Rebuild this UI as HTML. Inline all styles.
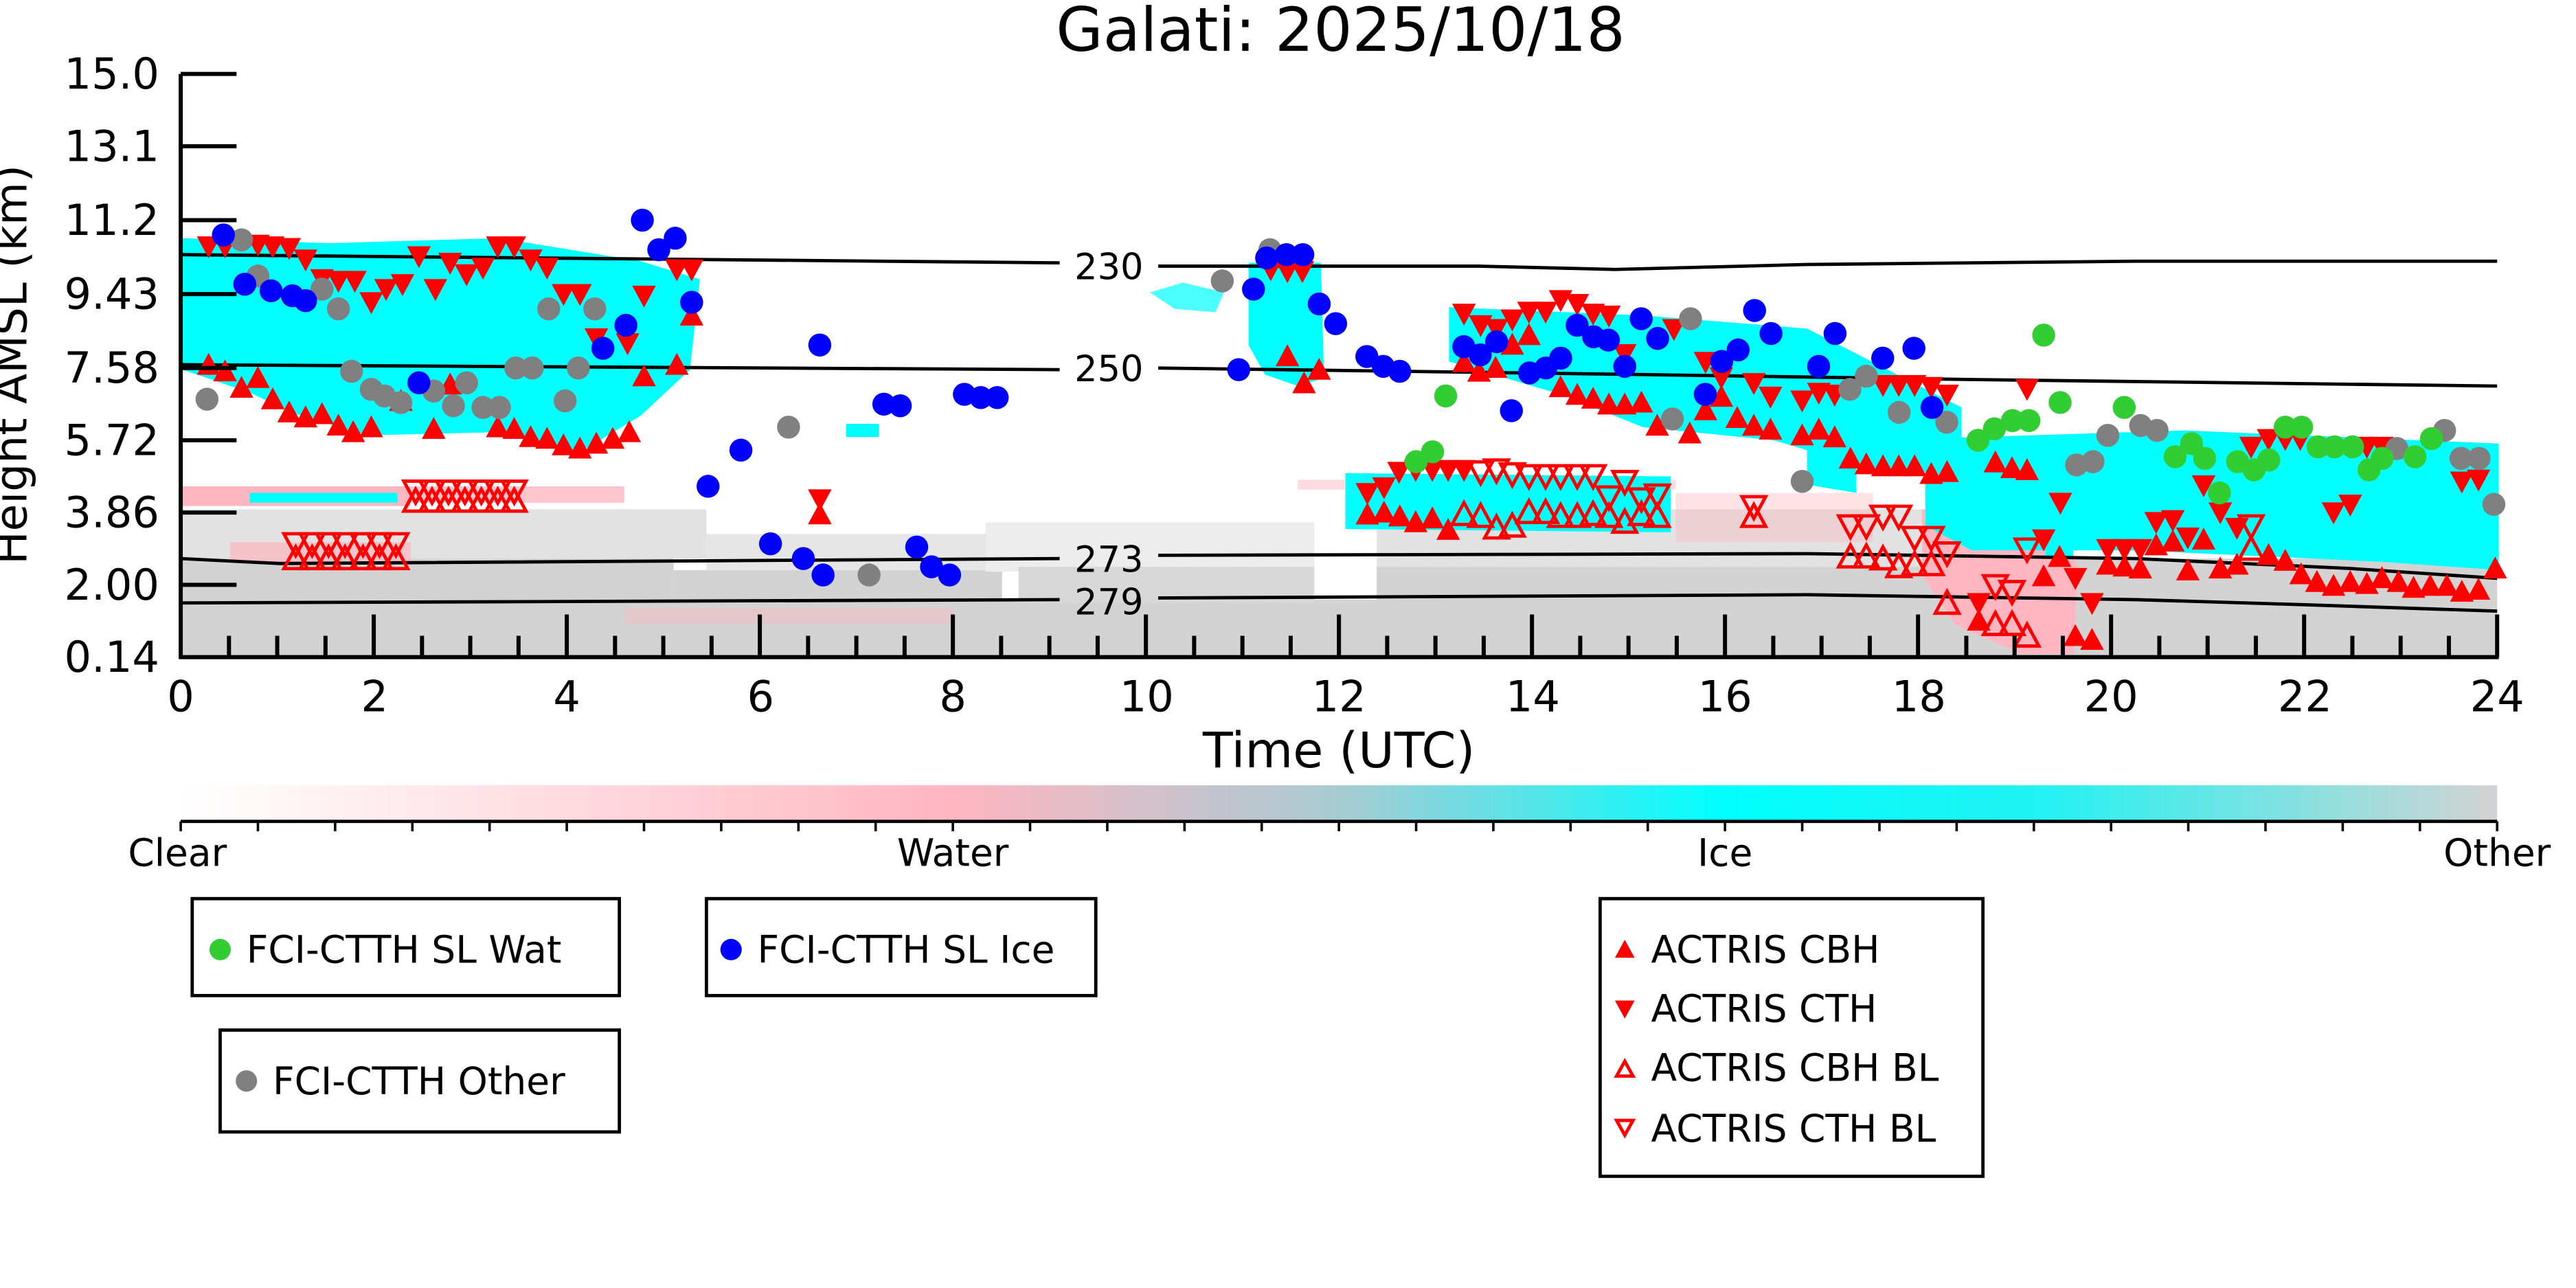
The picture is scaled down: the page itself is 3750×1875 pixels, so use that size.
<!DOCTYPE html>
<html><head><meta charset="utf-8"><style>html,body{margin:0;padding:0;background:#fff}svg{display:block}text{font-family:"DejaVu Sans","Liberation Sans",sans-serif}</style></head>
<body>
<svg id="s" width="3750" height="1875" viewBox="0 0 1568 784" xmlns="http://www.w3.org/2000/svg">
<defs>
<linearGradient id="cb" x1="0" x2="1" y1="0" y2="0">
<stop offset="0" stop-color="#ffffff"/><stop offset="0.333" stop-color="#ffb6c1"/><stop offset="0.5" stop-color="#a8cbd2"/><stop offset="0.667" stop-color="#00ffff"/><stop offset="0.8" stop-color="#20f2f2"/><stop offset="1" stop-color="#d3d3d3"/>
</linearGradient>
</defs>
<text x="816" y="31" font-size="37" text-anchor="middle">Galati: 2025/10/18</text>
<g id="bg">
<rect x="110" y="365" width="1410" height="35" fill="#d3d3d3"/>
<rect x="110" y="340" width="300" height="26" fill="#d3d3d3"/>
<rect x="110" y="310" width="320" height="30" fill="#e2e2e2"/>
<rect x="430" y="325" width="170" height="22" fill="#e6e6e6"/>
<rect x="410" y="347" width="200" height="20" fill="#d3d3d3"/>
<rect x="600" y="318" width="200" height="30" fill="#ececec"/>
<rect x="620" y="345" width="180" height="22" fill="#d8d8d8"/>
<rect x="838" y="345" width="340" height="21" fill="#d3d3d3"/>
<rect x="838" y="310" width="340" height="35" fill="#e2e2e2"/>
<rect x="1178" y="340" width="342" height="26" fill="#d3d3d3"/>
<rect x="110" y="296" width="140" height="12" fill="#ffb6c1"/>
<rect x="250" y="296" width="130" height="10" fill="#ffb6c1" opacity="0.8"/>
<rect x="140" y="330" width="110" height="12" fill="#ffb6c1" opacity="0.7"/>
<rect x="790" y="292" width="230" height="6" fill="#ffb6c1" opacity="0.5"/>
<rect x="1020" y="300" width="120" height="30" fill="#ffb6c1" opacity="0.4"/>
<polygon points="1170,310 1250,315 1265,345 1262,398 1230,398 1190,380 1170,350" fill="#ffb6c1"/>
<rect x="380" y="370" width="200" height="10" fill="#ffb6c1" opacity="0.4"/>
</g>
<g fill="#00ffff">
<polygon points="111,145 200,148 304,145 390,159 426,170 420,225 390,253 350,277 304,263 223,265 180,252 152,239 120,228 111,225"/>
<polygon points="700,178 720,172 745,178 740,190 715,188" opacity="0.7"/>
<polygon points="760,160 804,160 806,230 790,235 770,228 760,210"/>
<polygon points="882,187 1000,192 1100,200 1194,248 1194,288 1140,286 1080,268 1000,260 950,240 882,220"/>
<polygon points="819,288 1017,290 1017,324 819,322"/>
<polygon points="1172,267 1330,262 1521,270 1521,347 1450,342 1300,335 1200,335 1172,320"/>
<polygon points="1245,280 1262,280 1262,340 1245,340"/>
<polygon points="1100,240 1130,250 1130,300 1100,295"/>
<rect x="152" y="300" width="90" height="6"/>
<rect x="515" y="258" width="20" height="8"/>
</g>
<g stroke="#000" stroke-width="2" fill="none">
<polyline points="110,155 645,160"/><polyline points="705,162 900,162 983,164 1100,161 1300,159 1520,159"/>
<polyline points="110,222 645,225"/><polyline points="705,224 1000,228 1200,231 1520,235"/>
<polyline points="110,340 170,343 645,340"/><polyline points="705,338 1100,337 1300,340 1430,346 1520,352"/>
<polyline points="110,367 645,365"/><polyline points="705,364 1100,362 1300,365 1400,368 1520,372"/>
</g>
<g font-size="22" text-anchor="middle"><text x="675" y="170">230</text><text x="675" y="232">250</text><text x="675" y="348">273</text><text x="675" y="374">279</text></g>
<g id="mk"></g>
<g stroke="#000" stroke-width="2.5">
<line x1="110" y1="45" x2="110" y2="401"/><line x1="109" y1="400" x2="1521" y2="400"/>
</g>
<g id="ax" stroke="#000" stroke-width="2.5"></g>
<g font-size="26" text-anchor="end">
<text x="97" y="54">15.0</text><text x="97" y="98">13.1</text><text x="97" y="143">11.2</text><text x="97" y="188">9.43</text><text x="97" y="233">7.58</text><text x="97" y="277">5.72</text><text x="97" y="321">3.86</text><text x="97" y="365">2.00</text><text x="97" y="409">0.14</text>
</g>
<text transform="translate(16,222) rotate(-90)" font-size="27" text-anchor="middle">Height AMSL (km)</text>
<g font-size="26" text-anchor="middle">
<text x="110" y="433">0</text><text x="228" y="433">2</text><text x="345" y="433">4</text><text x="463" y="433">6</text><text x="580" y="433">8</text><text x="698" y="433">10</text><text x="815" y="433">12</text><text x="933" y="433">14</text><text x="1050" y="433">16</text><text x="1168" y="433">18</text><text x="1285" y="433">20</text><text x="1403" y="433">22</text><text x="1520" y="433">24</text>
</g>
<text x="815" y="467" font-size="30" text-anchor="middle">Time (UTC)</text>
<rect x="110" y="478" width="1410" height="22" fill="url(#cb)"/>
<line x1="110" y1="500" x2="1520" y2="500" stroke="#000" stroke-width="2"/>
<g id="cbt" stroke="#000" stroke-width="1.5"></g>
<g font-size="23" text-anchor="middle"><text x="108" y="527">Clear</text><text x="580" y="527">Water</text><text x="1050" y="527">Ice</text><text x="1520" y="527">Other</text></g>
<g stroke="#000" stroke-width="2" fill="#fff">
<rect x="117" y="547" width="260" height="59"/><rect x="430" y="547" width="237" height="59"/><rect x="134" y="627" width="243" height="62"/><rect x="974" y="547" width="233" height="169"/>
</g>
<circle cx="134" cy="578" r="6.5" fill="#32cd32"/><circle cx="445" cy="578" r="6.5" fill="#0000ff"/><circle cx="150" cy="658" r="6.5" fill="#808080"/>
<g font-size="23"><text x="150" y="586">FCI-CTTH SL Wat</text><text x="461" y="586">FCI-CTTH SL Ice</text><text x="166" y="666">FCI-CTTH Other</text>
<text x="1005" y="586">ACTRIS CBH</text><text x="1005" y="622">ACTRIS CTH</text><text x="1005" y="658">ACTRIS CBH BL</text><text x="1005" y="695">ACTRIS CTH BL</text></g>
<polygon points="989,572 995,583 983,583" fill="#f00"/><polygon points="983,609 995,609 989,620" fill="#f00"/>
<polygon points="989,646 994,655 984,655" fill="none" stroke="#f00" stroke-width="2"/><polygon points="984,682 994,682 989,691" fill="none" stroke="#f00" stroke-width="2"/>
<script>
var NS="http://www.w3.org/2000/svg";
function el(p,t,a){var e=document.createElementNS(NS,t);for(var k in a)e.setAttribute(k,a[k]);p.appendChild(e);return e;}
var ax=document.getElementById("ax");
[45,89,134,179,224,268,312,356].forEach(function(y){el(ax,"line",{x1:110,y1:y,x2:144,y2:y});});
for(var i=1;i<=48;i++){var x=110+i*29.375;var big=i%4==0;el(ax,"line",{x1:x,y1:400,x2:x,y2:big?374:387});}
var cbt=document.getElementById("cbt");
for(var i=0;i<=30;i++){var x=110+i*47;el(cbt,"line",{x1:x,y1:500,x2:x,y2:506});}
var mk=document.getElementById("mk");
function z2(p){return [p[0]*0.507+773.5,p[1]*0.2349+41.8];}
var S=7.2;
function up(x,y,f){el(mk,"polygon",{points:(x)+","+(y-S)+" "+(x+S)+","+(y+S*0.85)+" "+(x-S)+","+(y+S*0.85),fill:f?"#f00":"none",stroke:"#f00","stroke-width":f?0:2});}
function dn(x,y,f){el(mk,"polygon",{points:(x-S)+","+(y-S*0.85)+" "+(x+S)+","+(y-S*0.85)+" "+(x)+","+(y+S),fill:f?"#f00":"none",stroke:"#f00","stroke-width":f?0:2});}
function c(x,y,col){el(mk,"circle",{cx:x,cy:y,r:7,fill:col});}
[180,190,200,210,221,231,241].forEach(function(x){dn(x,331,0);up(x,340,0);});
[253,263,273,283,293,303,313].forEach(function(x){dn(x,299,0);up(x,305,0);});
var ou2=[[232,1155],[252,1160],[271,1190],[290,1185],[310,1150],[330,1150],[348,1160],[368,1160],[387,1155],[406,1160],[425,1175],[445,1155],[464,1160],[580,1160],[696,1265],[715,1265],[735,1270],[754,1290],[773,1285],[793,1285],[812,1385],[870,1440],[890,1440],[908,1470],[1177,1245]];
var od2=[[252,1045],[271,1040],[290,1050],[310,1055],[330,1055],[348,1055],[368,1055],[387,1055],[406,1110],[425,1070],[445,1115],[464,1105],[580,1135],[696,1185],[715,1185],[735,1160],[754,1160],[773,1215],[793,1215],[812,1255],[870,1340],[890,1355],[908,1245],[1177,1185]];
ou2.forEach(function(p){var q=z2(p);up(q[0],q[1],0);});
od2.forEach(function(p){var q=z2(p);dn(q[0],q[1],0);});
var u1=[[127,222],[137,226],[147,236],[157,230],[166,243],[176,251],[186,254],[196,252],[206,259],[215,263],[226,260],[244,244],[264,261],[274,234],[303,260],[313,261],[323,266],[333,267],[343,271],[353,273],[363,270],[373,267],[383,263],[392,229],[412,222],[421,192],[499,313]];
var d1=[[127,150],[137,150],[157,149],[166,150],[176,151],[186,158],[196,170],[206,171],[216,171],[226,184],[235,176],[245,173],[255,156],[265,176],[274,160],[284,167],[294,163],[303,150],[313,150],[323,158],[333,163],[343,179],[353,179],[363,206],[382,209],[392,180],[412,164],[421,164],[499,304]];
u1.forEach(function(p){up(p[0],p[1],1);});d1.forEach(function(p){dn(p[0],p[1],1);});
var u2=[[20,745],[40,815],[58,780],[232,760],[250,785],[270,775],[290,715],[310,690],[348,825],[368,845],[387,855],[406,870],[425,870],[445,865],[464,925],[503,945],[522,885],[541,850],[560,905],[580,925],[600,935],[638,950],[658,935],[677,955],[696,1010],[715,1025],[735,1030],[754,1030],[773,1030],[793,1050],[812,1045],[870,1020],[890,1035],[908,1040],[116,1155],[136,1150],[155,1160],[174,1175],[194,1165],[213,1195],[928,1315],[947,1265],[1005,1285],[1025,1290],[1044,1295],[1063,1235],[1083,1225],[1101,1300],[1120,1220],[1140,1295],[1160,1285],[1198,1260],[1218,1275],[1237,1310],[1256,1330],[1276,1340],[1296,1330],[1316,1335],[1334,1320],[1354,1330],[1372,1345],[1392,1340],[1412,1340],[1430,1355],[1450,1350],[1470,1295],[850,1430],[966,1470],[986,1480]];
var d2=[[0,520],[20,525],[38,525],[232,635],[252,665],[271,675],[290,650],[310,630],[330,630],[348,600],[368,610],[387,635],[406,640],[425,740],[484,675],[522,760],[541,800],[580,815],[600,850],[638,860],[658,840],[677,845],[735,820],[754,820],[773,820],[793,825],[812,845],[908,830],[116,1100],[136,1085],[154,1045],[174,1040],[194,1040],[213,1040],[232,1040],[948,1125],[1120,1080],[1140,1150],[1160,1190],[1177,980],[1198,960],[1218,960],[1236,960],[1276,1150],[1296,1130],[1316,980],[1334,980],[1430,1070],[1450,1065],[928,1220],[966,1320],[986,1385],[850,1385],[1063,1175],[1083,1170],[1101,1215],[1005,1245],[1025,1245],[1044,1245]];
u2.forEach(function(p){var q=z2(p);up(q[0],q[1],1);});d2.forEach(function(p){var q=z2(p);dn(q[0],q[1],1);});
var gray=[[126,243],[147,146],[157,168],[196,176],[206,188],[214,226],[226,237],[234,241],[244,245],[264,238],[276,247],[284,233],[294,248],[304,248],[314,224],[324,224],[334,188],[344,244],[352,224],[362,188],[480,260],[529,350],[744,171],[773,152],[1097,293],[1126,237],[1136,229],[1156,251],[1185,257],[1264,283],[1274,281],[1283,265],[1303,259],[1313,262],[1459,273],[1488,262],[1498,279],[1509,279],[1518,307],[1018,255],[1029,194]];
var blue=[[136,143],[149,173],[165,177],[178,180],[186,183],[255,233],[367,212],[381,198],[391,134],[401,152],[411,145],[421,184],[431,296],[451,274],[469,331],[489,340],[499,210],[501,350],[538,246],[548,247],[558,333],[567,345],[578,350],[587,240],[597,242],[607,242],[754,225],[763,176],[771,157],[783,155],[793,155],[803,185],[813,197],[832,217],[842,223],[852,226],[891,211],[901,216],[911,208],[920,250],[931,227],[941,224],[950,218],[960,198],[970,205],[979,207],[989,223],[999,194],[1009,206],[1038,240],[1048,220],[1058,213],[1068,189],[1078,203],[1107,223],[1117,203],[1146,218],[1165,212],[1176,248]];
var green=[[880,241],[862,281],[872,275],[1244,204],[1204,268],[1214,261],[1225,256],[1235,256],[1254,245],[1293,248],[1324,278],[1334,270],[1342,279],[1351,300],[1362,281],[1372,286],[1381,280],[1391,260],[1401,260],[1411,272],[1421,272],[1432,272],[1442,286],[1450,279],[1470,278],[1480,267]];
gray.forEach(function(p){c(p[0],p[1],"#808080");});
blue.forEach(function(p){c(p[0],p[1],"#0000ff");});
green.forEach(function(p){c(p[0],p[1],"#32cd32");});
</script>
</svg>
</body></html>
